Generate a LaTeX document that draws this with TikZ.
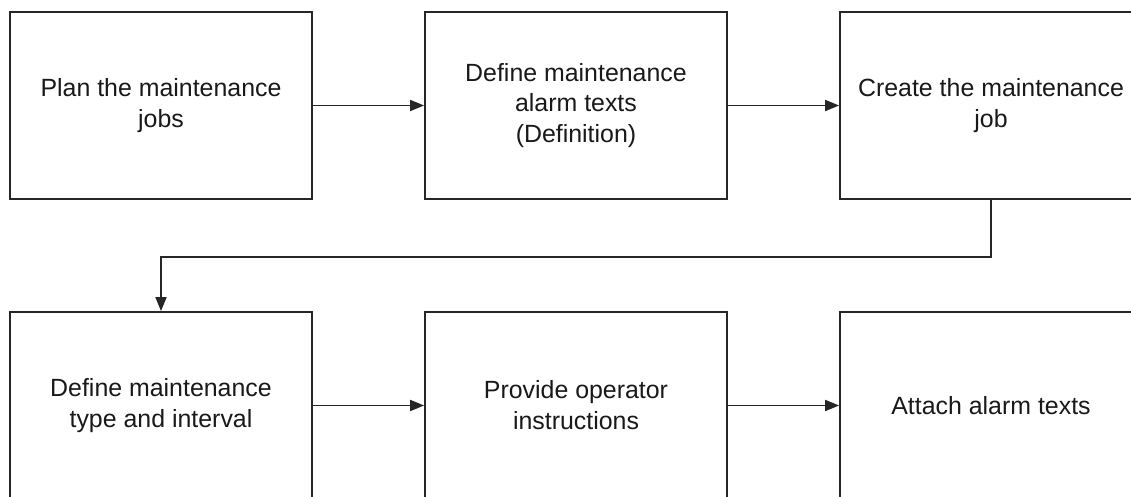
\documentclass[tikz,border=0pt]{standalone}
\usepackage{fontspec}
\setmainfont{Liberation Sans}
\usetikzlibrary{arrows.meta}
\tikzset{
  stepbox/.style={draw=black!85, line width=1.8bp, rectangle, minimum width=302bp, minimum height=187bp, align=center, inner sep=0pt, text=black!90, font=\fontsize{25}{31}\selectfont},
  flow/.style={draw=black!85, line width=1.8bp, -{Triangle[length=14bp,width=11bp]}}
}
\begin{document}
\begin{tikzpicture}[x=1bp,y=-1bp]
\useasboundingbox (0,0) rectangle (1131,497);
\clip (0,0) rectangle (1131,497);
\fill[white] (0,0) rectangle (1131,497);
\node[stepbox] (a) at (161,105.5) {Plan the maintenance\\jobs};
\node[stepbox] (b) at (576,105.5) {Define maintenance\\alarm texts\\(Definition)};
\node[stepbox] (c) at (991,105.5) {Create the maintenance\\job};
\node[stepbox] (d) at (161,405.5) {Define maintenance\\type and interval};
\node[stepbox] (e) at (576,405.5) {Provide operator\\instructions};
\node[stepbox] (f) at (991,405.5) {Attach alarm texts};
\draw[flow] (a) -- (b);
\draw[flow] (b) -- (c);
\draw[flow] (c.south) -- ++(0,57) -| (d.north);
\draw[flow] (d) -- (e);
\draw[flow] (e) -- (f);
\end{tikzpicture}
\end{document}
